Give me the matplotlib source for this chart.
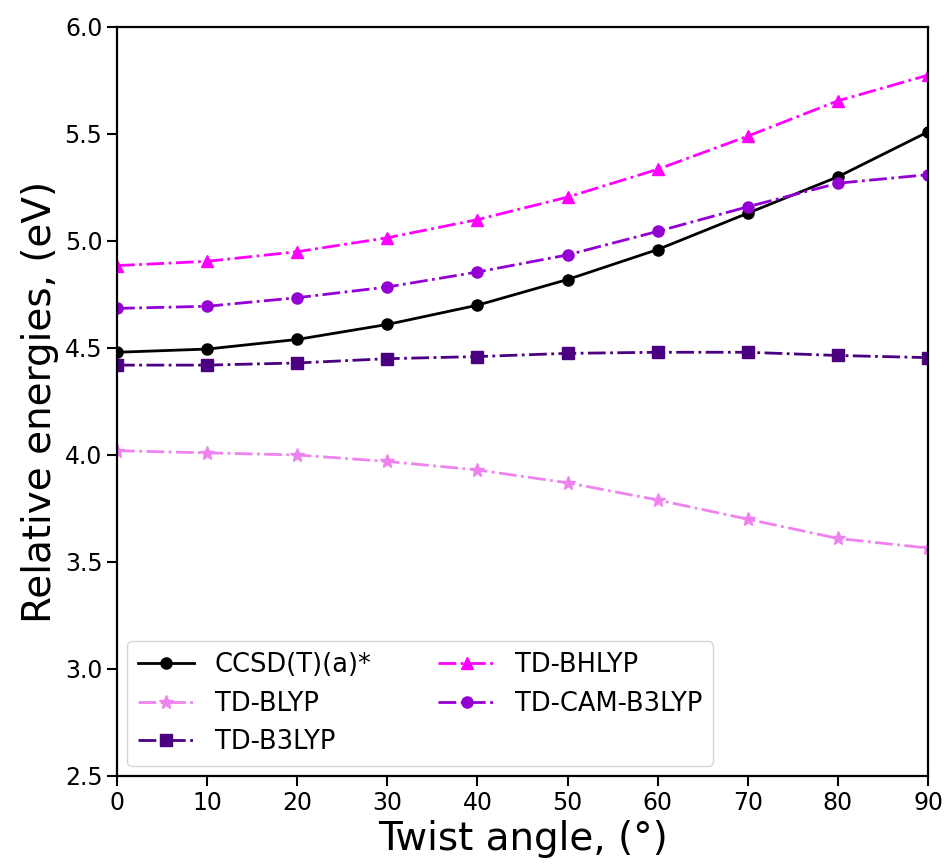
import matplotlib
matplotlib.use("Agg")
import matplotlib.pyplot as plt

angles = [0, 10, 20, 30, 40, 50, 60, 70, 80, 90]
ccsd = [4.48, 4.495, 4.54, 4.61, 4.70, 4.82, 4.96, 5.13, 5.30, 5.51]
td_blyp = [4.02, 4.01, 4.00, 3.97, 3.93, 3.87, 3.79, 3.70, 3.61, 3.565]
td_b3lyp = [4.42, 4.42, 4.43, 4.45, 4.46, 4.475, 4.48, 4.48, 4.465, 4.455]
td_bhlyp = [4.885, 4.905, 4.95, 5.015, 5.10, 5.205, 5.335, 5.49, 5.655, 5.775]
td_cam = [4.685, 4.695, 4.735, 4.785, 4.855, 4.935, 5.045, 5.16, 5.27, 5.31]

fig = plt.figure(figsize=(9.46, 8.68), dpi=100)
ax = fig.add_axes([0.1237, 0.106, 0.8573, 0.8629])

ax.plot(angles, ccsd, "-o", color="black", lw=2, ms=8, label="CCSD(T)(a)*")
ax.plot(angles, td_blyp, "-.*", color="violet", lw=2, ms=10, label="TD-BLYP")
ax.plot(angles, td_b3lyp, "-.s", color="indigo", lw=2, ms=8, label="TD-B3LYP")
ax.plot(angles, td_bhlyp, "-.^", color="magenta", lw=2, ms=8, label="TD-BHLYP")
ax.plot(angles, td_cam, "-.o", color="darkviolet", lw=2, ms=8, label="TD-CAM-B3LYP")

ax.set_xlim(0, 90)
ax.set_ylim(2.5, 6.0)
ax.set_xticks(range(0, 91, 10))
ax.set_yticks([2.5, 3.0, 3.5, 4.0, 4.5, 5.0, 5.5, 6.0])
ax.tick_params(labelsize=17, width=1.5, length=7)
for s in ax.spines.values():
    s.set_linewidth(1.6)

ax.set_xlabel("Twist angle, (°)", fontsize=28, labelpad=4)
ax.set_ylabel("Relative energies, (eV)", fontsize=28)
ax.legend(loc="lower left", ncol=2, fontsize=18.5, borderaxespad=0.4,
          columnspacing=2.6, handlelength=2.2)

fig.savefig("out.png", dpi=100)
